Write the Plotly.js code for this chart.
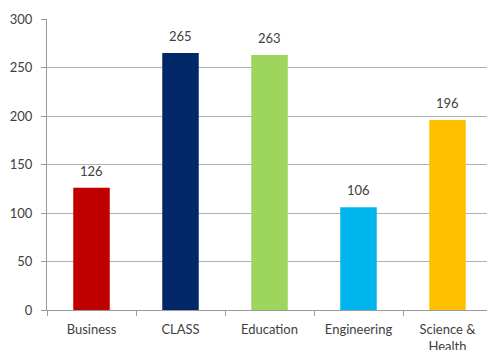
<!DOCTYPE html>
<html><head><meta charset="utf-8">
<script src="https://cdn.plot.ly/plotly-3.0.1.min.js"></script>
<style>html,body{margin:0;padding:0;overflow:hidden;background:#fff}</style>
</head><body><div id="chart"></div>
<script>
const categories = ["Business", "CLASS", "Education", "Engineering", "Science &<br>Health"];
const values = [126, 265, 263, 106, 196];
const colors = ["#C00000", "#002868", "#9DD55D", "#00B4EE", "#FFC000"];
const yTicks = [0, 50, 100, 150, 200, 250, 300];

const font = {family: "Lato, 'Open Sans', sans-serif", size: 13, color: "#404040"};
Plotly.newPlot("chart", [{
  type: "bar",
  x: categories,
  y: values,
  marker: {color: colors},
  width: 0.41,
  hoverinfo: "none"
}], {
  width: 492, height: 350,
  margin: {l: 47, r: 0, t: 19, b: 40},
  paper_bgcolor: "#fff", plot_bgcolor: "#fff",
  font: font,
  showlegend: false,
  bargap: 0.59,
  annotations: categories.map((c, i) => ({
    x: c, y: values[i], xref: "x", yref: "y",
    text: String(values[i]), showarrow: false,
    yanchor: "bottom", yshift: 7, font: font
  })),
  xaxis: {
    type: "category",
    showline: true, linecolor: "#9a9a9a", linewidth: 1,
    ticks: "outside", ticklen: 5, tickcolor: "#9a9a9a",
    tickson: "boundaries",
    ticklabelstandoff: 7,
    showgrid: false, zeroline: false,
    tickfont: font, fixedrange: true
  },
  yaxis: {
    range: [0, 300],
    tickvals: yTicks,
    showline: true, linecolor: "#9a9a9a", linewidth: 1,
    ticks: "outside", ticklen: 5, tickcolor: "#9a9a9a",
    ticklabelstandoff: 6,
    showgrid: true, gridcolor: "#b0b0b0", gridwidth: 1,
    zeroline: false,
    tickfont: font, fixedrange: true
  }
}, {staticPlot: true});
</script></body></html>
